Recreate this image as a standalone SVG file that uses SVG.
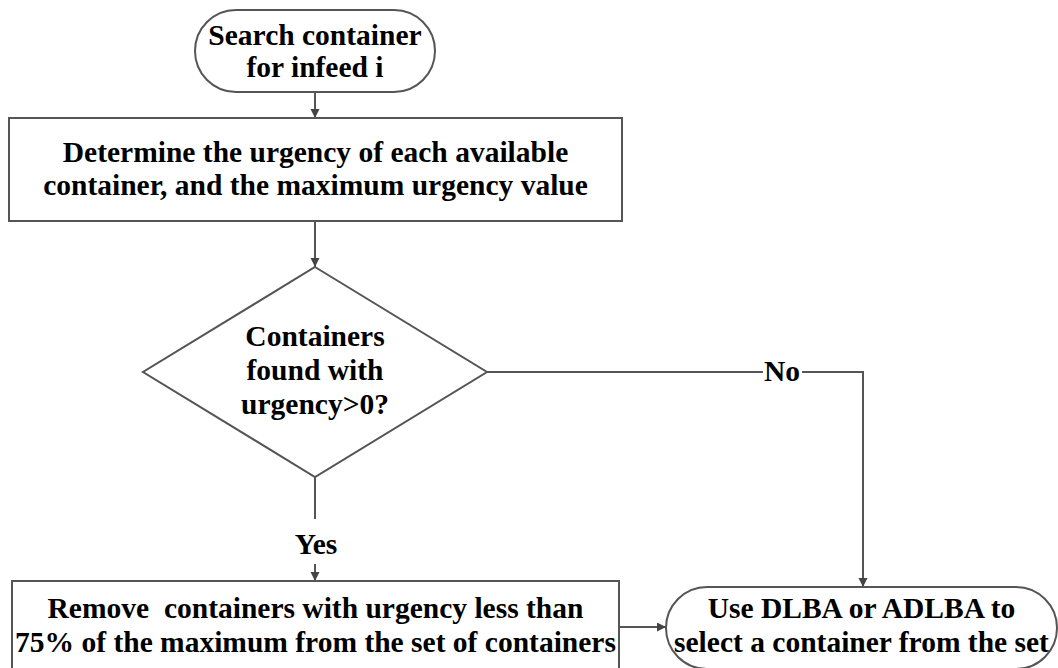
<svg xmlns="http://www.w3.org/2000/svg" width="1058" height="668" viewBox="0 0 1058 668">
  <style>
    .shape { fill: #ffffff; stroke: #555555; stroke-width: 2; }
    .conn { fill: none; stroke: #555555; stroke-width: 2; }
    .t { font-family: 'Liberation Serif', 'DejaVu Serif', serif; font-weight: 700; font-size: 29.5px; fill: #000000; text-anchor: middle; white-space: pre; }
  </style>
  <defs>
    <marker id="arrow" markerUnits="userSpaceOnUse" markerWidth="10" markerHeight="10" refX="9" refY="4.5" orient="auto">
      <path d="M0,0 L9,4.5 L0,9 z" fill="#444444"/>
    </marker>
  </defs>

  <rect width="1058" height="668" fill="#ffffff"/>

  <!-- connectors -->
  <g id="connectors">
    <line class="conn" x1="315" y1="92" x2="315" y2="118" marker-end="url(#arrow)"/>
    <line class="conn" x1="315" y1="221" x2="315" y2="267" marker-end="url(#arrow)"/>
    <!-- yes branch, split around its label -->
    <line class="conn" x1="315" y1="477" x2="315" y2="519"/>
    <line class="conn" x1="315" y1="564" x2="315" y2="581" marker-end="url(#arrow)"/>
    <text class="t" x="316" y="554">Yes</text>
    <!-- no branch, split around its label -->
    <line class="conn" x1="487" y1="372" x2="763" y2="372"/>
    <polyline class="conn" points="802,372 863,372 863,587" marker-end="url(#arrow)"/>
    <text class="t" x="782" y="381">No</text>
    <line class="conn" x1="619" y1="627" x2="666" y2="627" marker-end="url(#arrow)"/>
  </g>

  <!-- start terminator -->
  <g id="start">
    <rect class="shape" x="195" y="10" width="240" height="82" rx="41" ry="41"/>
    <text class="t" x="315" y="45">Search container</text>
    <text class="t" x="315" y="77">for infeed i</text>
  </g>

  <!-- urgency evaluation -->
  <g id="determine">
    <rect class="shape" x="9" y="118" width="613" height="103"/>
    <text class="t" x="315.5" y="162">Determine the urgency of each available</text>
    <text class="t" x="315.5" y="195">container, and the maximum urgency value</text>
  </g>

  <!-- decision -->
  <g id="decision">
    <polygon class="shape" points="315,267 487,372 315,477 143,372"/>
    <text class="t" x="315" y="346">Containers</text>
    <text class="t" x="315" y="380">found with</text>
    <text class="t" x="315" y="414">urgency&gt;0?</text>
  </g>

  <!-- filtering step -->
  <g id="remove">
    <rect class="shape" x="12" y="581" width="607" height="100"/>
    <text class="t" x="315.5" y="618">Remove  containers with urgency less than</text>
    <text class="t" x="315.5" y="652">75% of the maximum from the set of containers</text>
  </g>

  <!-- selection terminator -->
  <g id="select">
    <rect class="shape" x="666" y="587" width="391" height="82" rx="41" ry="41"/>
    <text class="t" x="861.5" y="618">Use DLBA or ADLBA to</text>
    <text class="t" x="861.5" y="652">select a container from the set</text>
  </g>
</svg>
